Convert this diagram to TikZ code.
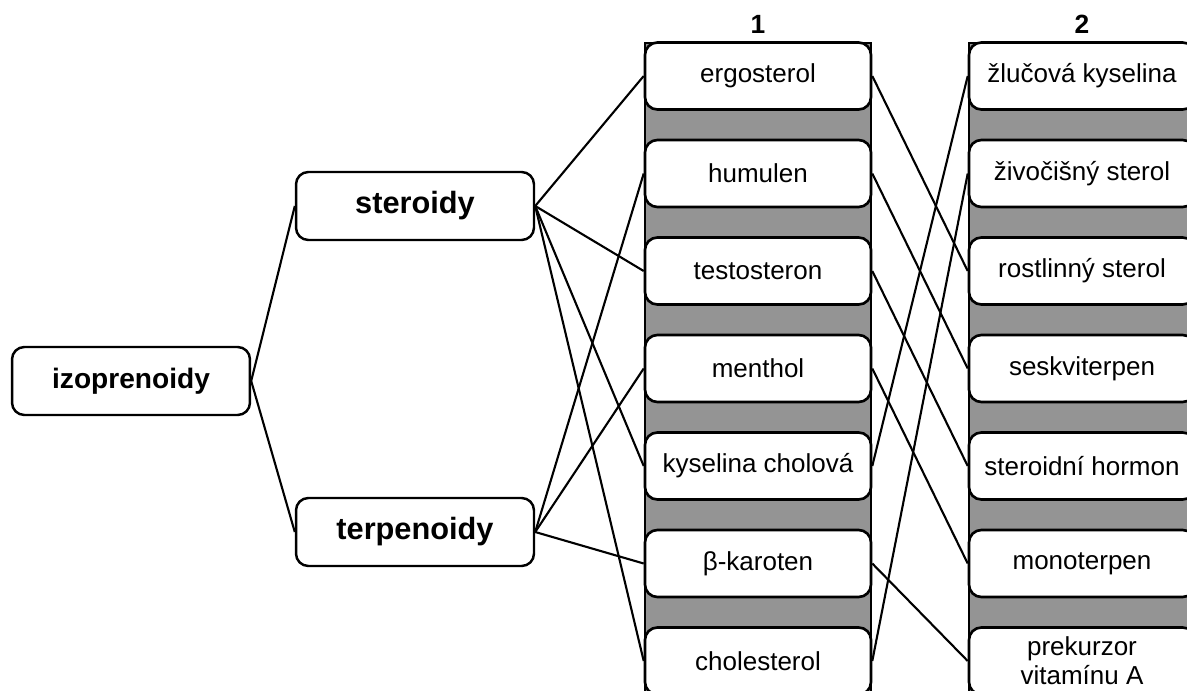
\documentclass[tikz,border=0pt]{standalone}
\usepackage{fontspec}
\setmainfont{Liberation Sans}

\tikzset{
  topic/.style={draw, line width=1.4pt, rounded corners=7pt, minimum width=4.76cm,
    minimum height=1.36cm, font=\bfseries\fontsize{17.5}{20}\selectfont},
  itembox/.style={draw, fill=white, line width=1.5pt, rounded corners=7pt, minimum width=4.52cm,
    minimum height=1.34cm, inner sep=1pt, align=center, font=\fontsize{14.8}{16.5}\selectfont},
  band/.style={draw, fill=black!42, line width=1.6pt},
  colnum/.style={font=\bfseries\fontsize{15}{17}\selectfont},
  conn/.style={line width=1.2pt},
}

\begin{document}
\begin{tikzpicture}[x=0.02cm,y=-0.02cm]
  \useasboundingbox (0,0) rectangle (1187,690);
  \clip (0,0) rectangle (1187,690);
  % shaded strips behind the two columns
  \draw[band] (645,43) rectangle (871,720);
  \draw[band] (969,43) rectangle (1195,720);
  \node[colnum] (num1) at (758,24) {1};
  \node[colnum] (num2) at (1082,24) {2};

  \node[topic, font=\bfseries\fontsize{16}{19}\selectfont] (izo) at (131,381) {izoprenoidy};
  \node[topic] (ster) at (415,206) {steroidy};
  \node[topic] (terp) at (415,532) {terpenoidy};

  % column 1
  \node[itembox] (ergo) at (758,76) {ergosterol};
  \node[itembox] (humu) at (758,173.5) {humulen};
  \node[itembox] (testo) at (758,271) {testosteron};
  \node[itembox] (menth) at (758,368.5) {menthol};
  \node[itembox] (kysel) at (758,466) {kyselina cholová};
  \node[itembox] (karot) at (758,563.5) {β-karoten};
  \node[itembox] (chole) at (758,661) {cholesterol};

  % column 2
  \node[itembox] (zluc) at (1082,76) {žlučová kyselina};
  \node[itembox] (zivo) at (1082,173.5) {živočišný sterol};
  \node[itembox] (rost) at (1082,271) {rostlinný sterol};
  \node[itembox] (sesk) at (1082,368.5) {seskviterpen};
  \node[itembox] (horm) at (1082,466) {steroidní hormon};
  \node[itembox] (mono) at (1082,563.5) {monoterpen};
  \node[itembox] (prek) at (1082,661) {prekurzor\\vitamínu A};

  % tree
  \draw[conn] (izo.east) -- (ster.west);
  \draw[conn] (izo.east) -- (terp.west);
  \draw[conn] (ster.east) -- (ergo.west);
  \draw[conn] (ster.east) -- (testo.west);
  \draw[conn] (ster.east) -- (kysel.west);
  \draw[conn] (ster.east) -- (chole.west);
  \draw[conn] (terp.east) -- (humu.west);
  \draw[conn] (terp.east) -- (menth.west);
  \draw[conn] (terp.east) -- (karot.west);

  % column 1 to column 2
  \draw[conn] (ergo.east) -- (rost.west);
  \draw[conn] (humu.east) -- (sesk.west);
  \draw[conn] (testo.east) -- (horm.west);
  \draw[conn] (menth.east) -- (mono.west);
  \draw[conn] (kysel.east) -- (zluc.west);
  \draw[conn] (karot.east) -- (prek.west);
  \draw[conn] (chole.east) -- (zivo.west);
\end{tikzpicture}
\end{document}
